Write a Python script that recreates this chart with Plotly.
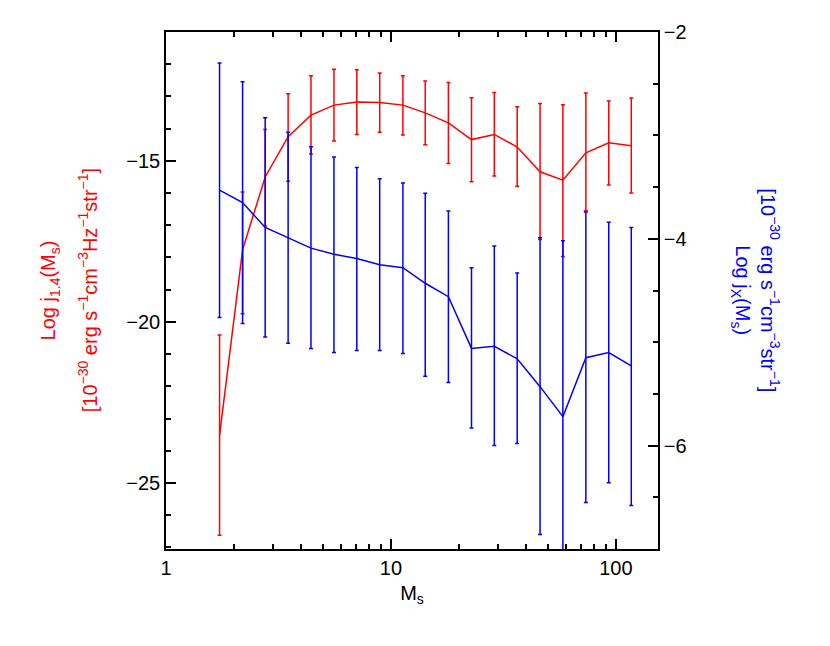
import plotly.graph_objects as go

# Mach number bins
ms = [1.73, 2.19, 2.76, 3.49, 4.41, 5.58, 7.05, 8.91, 11.3, 14.2, 18.0,
      22.8, 28.8, 36.4, 46.0, 58.1, 73.5, 92.9, 117]

# radio emissivity (log), with upper / lower error ends
j14 = [-23.52, -17.76, -15.50, -14.25, -13.58, -13.27, -13.17, -13.19, -13.27, -13.51,
       -13.82, -14.34, -14.18, -14.57, -15.34, -15.60, -14.75, -14.44, -14.53]
j14_hi = [-20.41, -15.97, -14.03, -12.92, -12.36, -12.16, -12.17, -12.27, -12.36, -12.52,
          -12.57, -13.04, -12.88, -13.32, -13.22, -13.26, -12.89, -13.14, -13.05]
j14_lo = [-26.62, -19.75, -17.02, -15.63, -14.79, -14.38, -14.18, -14.11, -14.20, -14.50,
          -15.08, -15.65, -15.47, -15.79, -17.44, -17.97, -16.55, -15.75, -16.00]

# X-ray emissivity (log)
jx = [-3.53, -3.65, -3.89, -3.99, -4.09, -4.15, -4.19, -4.25, -4.28, -4.43,
      -4.56, -5.06, -5.04, -5.16, -5.43, -5.72, -5.15, -5.10, -5.23]
jx_hi = [-2.30, -2.48, -2.83, -2.97, -3.11, -3.21, -3.31, -3.42, -3.46, -3.56,
         -3.73, -4.28, -4.07, -4.33, -3.99, -4.02, -3.74, -3.84, -3.89]
jx_lo = [-4.76, -4.82, -4.95, -5.01, -5.06, -5.10, -5.08, -5.08, -5.11, -5.33,
         -5.39, -5.83, -6.00, -5.98, -6.86, -7.20, -6.55, -6.36, -6.58]

x_minor = [2, 3, 4, 5, 6, 7, 8, 9, 20, 30, 40, 50, 60, 70, 80, 90]

RED = "#ff0000"
BLUE = "#0000ff"

fig = go.Figure()
fig.add_trace(go.Scatter(
    x=ms, y=j14, mode="lines", line=dict(color=RED, width=1.5),
    error_y=dict(type="data", symmetric=False,
                 array=[h - c for h, c in zip(j14_hi, j14)],
                 arrayminus=[c - l for c, l in zip(j14, j14_lo)],
                 color=RED, thickness=1.5, width=2)))
fig.add_trace(go.Scatter(
    x=ms, y=jx, mode="lines", yaxis="y2", line=dict(color=BLUE, width=1.5),
    error_y=dict(type="data", symmetric=False,
                 array=[h - c for h, c in zip(jx_hi, jx)],
                 arrayminus=[c - l for c, l in zip(jx, jx_lo)],
                 color=BLUE, thickness=1.5, width=2)))

axis_style = dict(showline=True, linecolor="black", linewidth=1.5, ticks="inside",
                  tickcolor="black", ticklen=10, tickwidth=1.5, showgrid=False,
                  zeroline=False, tickfont=dict(size=20, color="black"))

fig.update_layout(
    width=830, height=646, showlegend=False,
    plot_bgcolor="white", paper_bgcolor="white",
    font=dict(family="Liberation Sans, Arial, sans-serif", color="black"),
    margin=dict(l=158, r=180, t=24, b=105),
    xaxis=dict(type="log", range=[0, 2.187], mirror="ticks",
               tickvals=[1, 10, 100], ticktext=["1", "10", "100"],
               minor=dict(ticks="inside", ticklen=5, tickvals=x_minor,
                          tickcolor="black", tickwidth=1.5, showgrid=False),
               title=dict(text="M<sub>s</sub>", font=dict(size=20), standoff=8),
               **axis_style),
    yaxis=dict(range=[-27.05, -11.0], tickvals=[-25, -20, -15],
               ticktext=["\u221225", "\u221220", "\u221215"],
               minor=dict(ticks="inside", ticklen=5, dtick=1, tickcolor="black",
                          tickwidth=1.5, showgrid=False),
               **axis_style),
    yaxis2=dict(range=[-7, -2], overlaying="y", side="right",
                tickvals=[-6, -4, -2], ticktext=["\u22126", "\u22124", "\u22122"],
                minor=dict(ticks="inside", ticklen=5, dtick=0.5, tickcolor="black",
                           tickwidth=1.5, showgrid=False),
                **axis_style),
)

titles = [
    (-0.236, -90, RED, "Log j<sub>1.4</sub>(M<sub>s</sub>)"),
    (-0.159, -90, RED, "[10<sup>\u221230</sup> erg s<sup>\u22121</sup>cm<sup>\u22123</sup>"
                       "Hz<sup>\u22121</sup>str<sup>\u22121</sup>]"),
    (1.169, 90, BLUE, "Log j<sub>X</sub>(M<sub>s</sub>)"),
    (1.228, 90, BLUE, "[10<sup>\u221230</sup> erg s<sup>\u22121</sup>cm<sup>\u22123</sup>"
                      "str<sup>\u22121</sup>]"),
]
for xp, ang, col, txt in titles:
    fig.add_annotation(xref="paper", yref="paper", x=xp, y=0.5, textangle=ang,
                       showarrow=False, text=txt, font=dict(size=20, color=col),
                       xanchor="center", yanchor="middle")

fig.write_html("out.html")
